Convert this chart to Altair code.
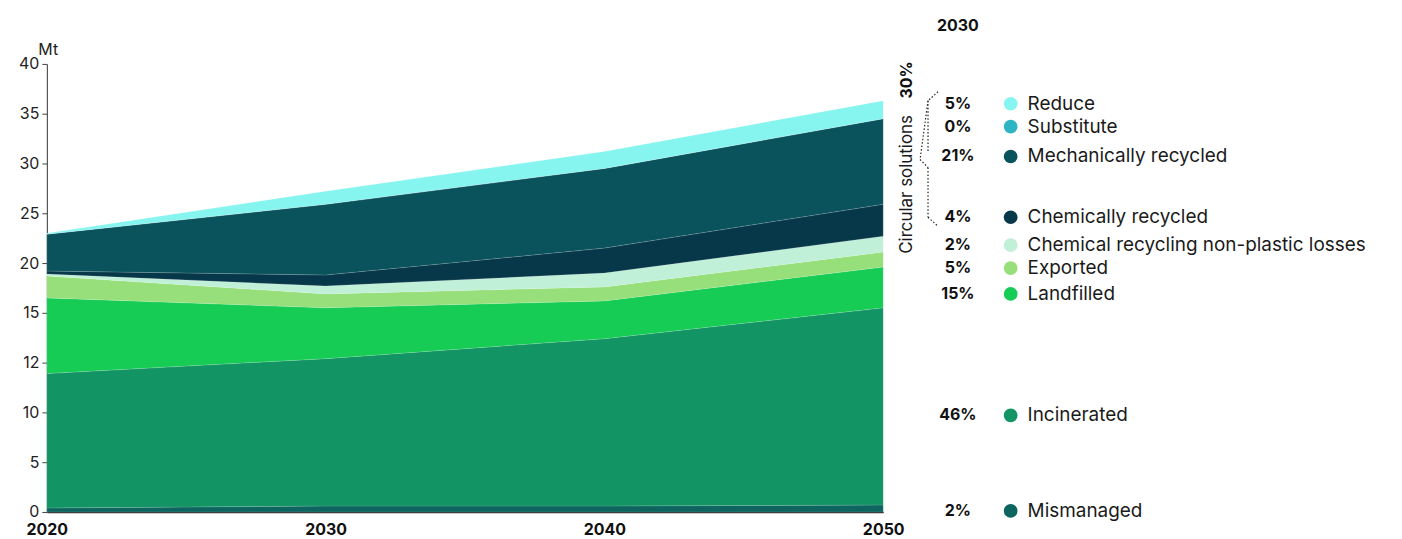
import altair as alt
import pandas as pd

# ---------------- data ----------------
years = [2020, 2030, 2040, 2050]

# stacking order, bottom -> top
series = ["Mismanaged", "Incinerated", "Landfilled", "Exported",
          "Chemical recycling non-plastic losses", "Chemically recycled",
          "Mechanically recycled", "Substitute", "Reduce"]

# values in the units of the drawn axis (ticks every 5 units)
mismanaged    = [0.4, 0.6, 0.6, 0.7]
incinerated   = [13.5, 14.8, 16.8, 19.8]
landfilled    = [7.6, 5.1, 3.8, 4.1]
exported      = [2.2, 1.4, 1.4, 1.5]
chem_losses   = [0.2, 0.8, 1.4, 1.6]
chem_recycled = [0.3, 1.1, 2.5, 3.2]
mech_recycled = [3.7, 7.1, 8.0, 8.6]
substitute    = [0.0, 0.0, 0.0, 0.0]
reduce_       = [0.1, 1.3, 1.7, 1.8]

values = [mismanaged, incinerated, landfilled, exported, chem_losses,
          chem_recycled, mech_recycled, substitute, reduce_]

colors = ["#0E655F", "#139464", "#17CC55", "#96DF7A", "#C0F0D8",
          "#073849", "#0B535C", "#2DB5C3", "#87F5EF"]

pct_2030 = ["2%", "46%", "15%", "5%", "2%", "4%", "21%", "0%", "5%"]

# legend row positions (in y-axis units)
legend_y = [0.1, 9.7, 21.9, 24.5, 26.8, 29.6, 35.7, 38.7, 41.0]

# y-axis tick labels as printed on the reference
y_tick_values = [0, 5, 10, 15, 20, 25, 30, 35, 40, 45]
y_tick_labels = ["0", "5", "10", "12", "15", "20", "25", "30", "35", "40"]

header = "2030"
group_label = "Circular solutions"
group_pct = "30%"

# ---------------- tables ----------------
rows = []
for i, (name, vals) in enumerate(zip(series, values)):
    for yr, v in zip(years, vals):
        rows.append({"year": yr, "series": name, "value": v, "ord": i})
df = pd.DataFrame(rows)

leg = pd.DataFrame({"series": series, "pct": pct_2030, "ly": legend_y})

label_expr = ""
for v, lab in zip(y_tick_values, y_tick_labels):
    label_expr += f"datum.value == {v} ? '{lab}' : "
label_expr += "datum.label"

FONT = "Inter"
color_scale = alt.Scale(domain=series, range=colors)
y_scale = alt.Scale(domain=[0, 45], nice=False, zero=True)

area = alt.Chart(df).mark_area(
    strokeWidth=0.6, stroke="#ffffff", strokeOpacity=0.2
).encode(
    x=alt.X("year:Q", scale=alt.Scale(domain=[2020, 2050], nice=False, zero=False),
            axis=alt.Axis(values=years, format="d", title=None, grid=False,
                          ticks=False, labelFontSize=16, labelFontWeight="bold",
                          labelColor="#111111", labelPadding=10, labelFlush=False,
                          domainColor="#333333", domainWidth=1.5)),
    y=alt.Y("value:Q", stack="zero", scale=y_scale,
            axis=alt.Axis(values=y_tick_values, labelExpr=label_expr,
                          title="Mt", titleAngle=0, titleAlign="left",
                          titleBaseline="bottom", titleX=-9, titleY=-6,
                          titleFontSize=16, titleFontWeight="normal",
                          titleColor="#222222", grid=False, tickSize=5,
                          tickColor="#444444", domainColor="#333333",
                          labelFontSize=16, labelColor="#222222",
                          labelPadding=3, labelFlush=False)),
    color=alt.Color("series:N", scale=color_scale, legend=None),
    order=alt.Order("ord:Q", sort="ascending"),
)

leg_base = alt.Chart(leg).encode(
    y=alt.Y("ly:Q", scale=y_scale, axis=None)
)
leg_dots = leg_base.mark_circle(size=190, opacity=1).encode(
    x=alt.value(968),
    color=alt.Color("series:N", scale=color_scale, legend=None),
)
leg_pct = leg_base.mark_text(align="center", baseline="middle", font=FONT,
                             fontSize=16, fontWeight="bold", color="#111111").encode(
    x=alt.value(915), text="pct:N")
leg_lab = leg_base.mark_text(align="left", baseline="middle", font=FONT,
                             fontSize=19, color="#1a1a1a").encode(
    x=alt.value(985), text="series:N")

hdr = alt.Chart(pd.DataFrame({"t": [header]})).mark_text(
    align="center", baseline="middle", font=FONT, fontSize=16,
    fontWeight="bold", color="#111111").encode(
    x=alt.value(915), y=alt.value(-38), text="t:N")

grp = alt.Chart(pd.DataFrame({"t": [group_label]})).mark_text(
    align="center", baseline="middle", angle=270, font=FONT, fontSize=17,
    color="#1a1a1a").encode(
    x=alt.value(864), y=alt.value(121), text="t:N")

grp_pct = alt.Chart(pd.DataFrame({"t": [group_pct]})).mark_text(
    align="center", baseline="middle", angle=270, font=FONT, fontSize=16,
    fontWeight="bold", color="#111111").encode(
    x=alt.value(864), y=alt.value(16), text="t:N")

# dotted curly brace (decoration, plot-relative pixels)
brace = pd.DataFrame({
    "x":  [895, 885, 885, 877, 885, 885],
    "x2": [885, 885, 877, 885, 885, 895],
    "y":  [28, 37, 37, 96, 104, 154],
    "y2": [37, 89, 96, 104, 154, 163],
})
brace_rules = alt.Chart(brace).mark_rule(
    strokeDash=[1.5, 2], strokeWidth=1.2, color="#222222").encode(
    x=alt.X("x:Q", scale=None), x2="x2:Q",
    y=alt.Y("y:Q", scale=None), y2="y2:Q")

chart = alt.layer(
    area, leg_dots, leg_pct, leg_lab, hdr, grp, grp_pct, brace_rules
).resolve_axis(y="independent", x="independent").properties(
    width=840, height=450,
    padding={"left": 39, "top": 55, "right": 513, "bottom": 28},
    autosize=alt.AutoSizeParams(type="none"),
).configure(font=FONT).configure_view(stroke=None)

chart.save("out.html", embed_options={"renderer": "svg", "actions": False})
